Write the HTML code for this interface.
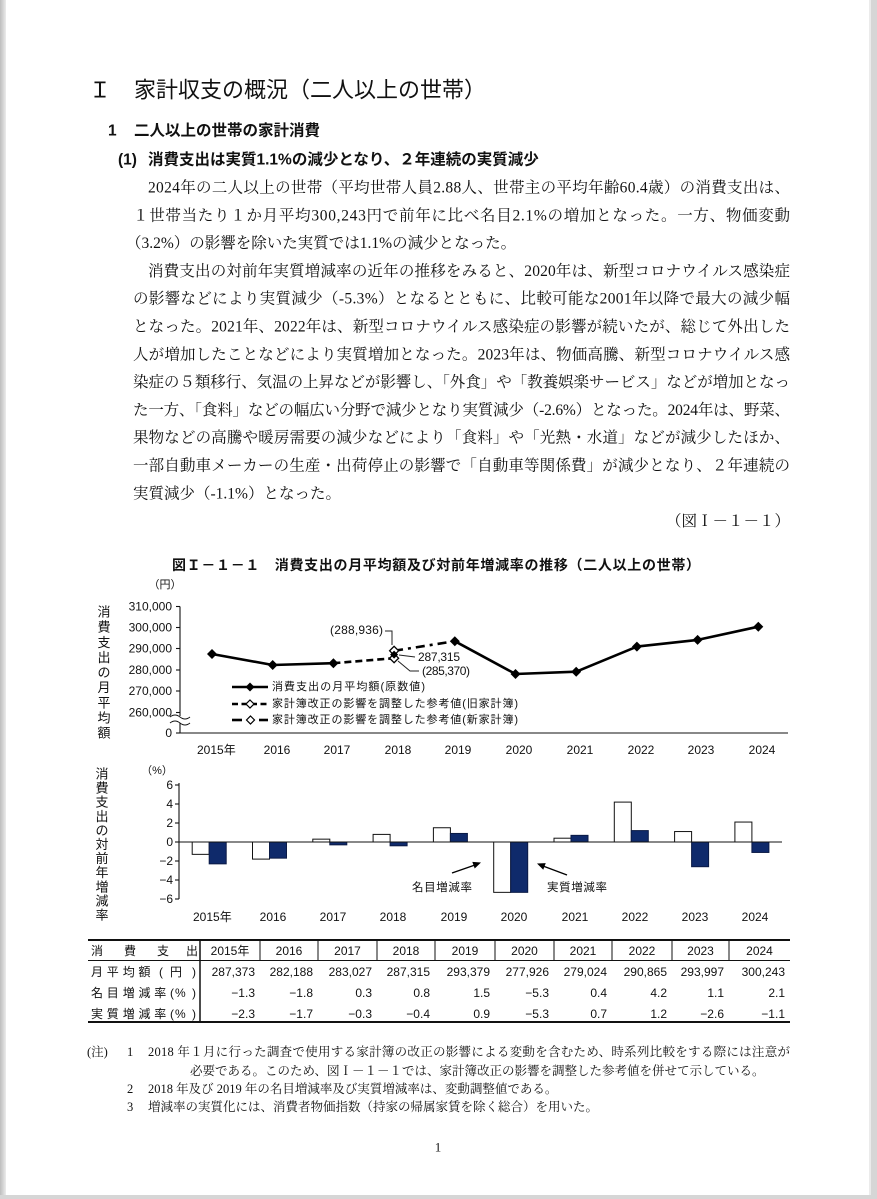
<!DOCTYPE html>
<html lang="ja">
<head>
<meta charset="utf-8">
<style>
  html,body{margin:0;padding:0;background:#fff;}
  body{width:877px;height:1199px;position:relative;overflow:hidden;}
  svg{position:absolute;left:0;top:0;}
  .g{font-family:"Liberation Sans","Noto Sans CJK JP",sans-serif;}
  .m{font-family:"Liberation Serif","Noto Serif CJK SC",serif;}
  text{dominant-baseline:central;fill:#111;}
</style>
</head>
<body>
<svg width="877" height="1199" viewBox="0 0 877 1199" xmlns="http://www.w3.org/2000/svg">
  <defs>
    <linearGradient id="lg" x1="0" x2="1" y1="0" y2="0">
      <stop offset="0" stop-color="#bdbdbd"/>
      <stop offset="1" stop-color="#ececec"/>
    </linearGradient>
  </defs>
  <!-- page edges -->
  <rect x="0" y="0" width="877" height="1199" fill="#fff"/>
  <rect x="0" y="0" width="6" height="1199" fill="url(#lg)"/>
  <rect x="869" y="0" width="8" height="1199" fill="#d6d6d6"/>
  <rect x="869" y="0" width="2" height="1199" fill="#ebebeb"/>
  <rect x="0" y="1195" width="877" height="4" fill="#d6d6d6"/>

  <!-- headings -->
  <text class="g" x="89" y="90" font-size="22">Ｉ</text>
  <text class="g" x="134" y="90" font-size="22">家計収支の概況（二人以上の世帯）</text>
  <text class="g" x="108" y="131" font-size="15.5" font-weight="bold">1</text>
  <text class="g" x="134" y="131" font-size="15.5" font-weight="bold">二人以上の世帯の家計消費</text>
  <text class="g" x="118" y="160" font-size="15.5" font-weight="bold">(1)</text>
  <text class="g" x="148" y="160" font-size="15.5" font-weight="bold">消費支出は実質1.1%の減少となり、２年連続の実質減少</text>

  <!-- body text -->
  <g class="m" font-size="15.5">
    <text x="148" y="188" textLength="642" lengthAdjust="spacing">2024年の二人以上の世帯（平均世帯人員2.88人、世帯主の平均年齢60.4歳）の消費支出は、</text>
    <text x="133" y="215.8" textLength="657" lengthAdjust="spacing">１世帯当たり１か月平均300,243円で前年に比べ名目2.1%の増加となった。一方、物価変動</text>
    <text x="126" y="243.6">（3.2%）の影響を除いた実質では1.1%の減少となった。</text>
    <text x="148" y="271.4" textLength="642" lengthAdjust="spacing">消費支出の対前年実質増減率の近年の推移をみると、2020年は、新型コロナウイルス感染症</text>
    <text x="133" y="299.2" textLength="657" lengthAdjust="spacing">の影響などにより実質減少（-5.3%）となるとともに、比較可能な2001年以降で最大の減少幅</text>
    <text x="133" y="327" textLength="657" lengthAdjust="spacing">となった。2021年、2022年は、新型コロナウイルス感染症の影響が続いたが、総じて外出した</text>
    <text x="133" y="354.8" textLength="657" lengthAdjust="spacing">人が増加したことなどにより実質増加となった。2023年は、物価高騰、新型コロナウイルス感</text>
    <text x="133" y="382.6" textLength="657" lengthAdjust="spacing">染症の５類移行、気温の上昇などが影響し、「外食」や「教養娯楽サービス」などが増加となっ</text>
    <text x="133" y="410.4" textLength="657" lengthAdjust="spacing">た一方、「食料」などの幅広い分野で減少となり実質減少（-2.6%）となった。2024年は、野菜、</text>
    <text x="133" y="438.2" textLength="657" lengthAdjust="spacing">果物などの高騰や暖房需要の減少などにより「食料」や「光熱・水道」などが減少したほか、</text>
    <text x="133" y="466" textLength="657" lengthAdjust="spacing">一部自動車メーカーの生産・出荷停止の影響で「自動車等関係費」が減少となり、２年連続の</text>
    <text x="133" y="493.8">実質減少（-1.1%）となった。</text>
    <text x="790" y="521.6" text-anchor="end">（図Ｉ－１－１）</text>
  </g>

  <!-- chart title -->
  <text class="g" x="172" y="565" font-size="14" font-weight="bold" textLength="528" lengthAdjust="spacing">図Ｉ－１－１　消費支出の月平均額及び対前年増減率の推移（二人以上の世帯）</text>

  <!-- ===== Line chart ===== -->
  <text class="g" x="165" y="585" font-size="11" text-anchor="middle">（円）</text>
  <text class="g" x="104 104 104 104 104 104 104 104 104" y="612 627.1 642.3 657.4 672.5 687.6 702.8 717.9 733" font-size="13" text-anchor="middle">消費支出の月平均額</text>
  <g class="g" font-size="12" text-anchor="end">
    <text x="172" y="606.5">310,000</text>
    <text x="172" y="627.5">300,000</text>
    <text x="172" y="648.5">290,000</text>
    <text x="172" y="670">280,000</text>
    <text x="172" y="691">270,000</text>
    <text x="172" y="712.5">260,000</text>
    <text x="172" y="733">0</text>
  </g>
  <g stroke="#111" stroke-width="1.1" fill="none">
    <line x1="180" y1="606.5" x2="180" y2="733"/>
    <line x1="180" y1="733" x2="788" y2="733"/>
    <line x1="176" y1="606.5" x2="180" y2="606.5"/>
    <line x1="176" y1="627.5" x2="180" y2="627.5"/>
    <line x1="176" y1="648.5" x2="180" y2="648.5"/>
    <line x1="176" y1="670" x2="180" y2="670"/>
    <line x1="176" y1="691" x2="180" y2="691"/>
    <line x1="176" y1="712.5" x2="180" y2="712.5"/>
    <line x1="176" y1="733" x2="180" y2="733"/>
  </g>
  <!-- axis break -->
  <rect x="171" y="716" width="19" height="7" fill="#fff"/>
  <g stroke="#111" stroke-width="1" fill="none">
    <path d="M170,717 q5,-4 10,0 t10,0"/>
    <path d="M170,723 q5,-4 10,0 t10,0"/>
  </g>
  <g class="g" font-size="12" text-anchor="middle">
    <text x="197" y="750" text-anchor="start">2015年</text>
    <text x="277" y="750">2016</text>
    <text x="337" y="750">2017</text>
    <text x="398" y="750">2018</text>
    <text x="458" y="750">2019</text>
    <text x="519" y="750">2020</text>
    <text x="580" y="750">2021</text>
    <text x="641" y="750">2022</text>
    <text x="701" y="750">2023</text>
    <text x="762" y="750">2024</text>
  </g>
  <!-- series -->
  <g stroke="#000" stroke-width="2.6" fill="none" stroke-linejoin="round">
    <polyline points="212,654 272.7,665 333.4,663.2"/>
    <polyline points="454.8,641.2 515.5,674 576.2,671.7 636.9,646.6 697.6,639.9 758.3,626.7"/>
    <line x1="333.4" y1="663.2" x2="394.1" y2="658.2" stroke-dasharray="7 4"/>
    <line x1="394.1" y1="650.8" x2="454.8" y2="641.2" stroke-dasharray="9 5 3 5"/>
  </g>
  <g fill="#000">
    <path d="M212,649 l5,5 l-5,5 l-5,-5z"/>
    <path d="M272.7,660 l5,5 l-5,5 l-5,-5z"/>
    <path d="M333.4,658.2 l5,5 l-5,5 l-5,-5z"/>
    <path d="M454.8,636.2 l5,5 l-5,5 l-5,-5z"/>
    <path d="M515.5,669 l5,5 l-5,5 l-5,-5z"/>
    <path d="M576.2,666.7 l5,5 l-5,5 l-5,-5z"/>
    <path d="M636.9,641.6 l5,5 l-5,5 l-5,-5z"/>
    <path d="M697.6,634.9 l5,5 l-5,5 l-5,-5z"/>
    <path d="M758.3,621.7 l5,5 l-5,5 l-5,-5z"/>
  </g>
  <g fill="#fff" stroke="#000" stroke-width="1.3">
    <path d="M394.1,646.3 l4.5,4.5 l-4.5,4.5 l-4.5,-4.5z"/>
    <path d="M394.1,653.7 l4.5,4.5 l-4.5,4.5 l-4.5,-4.5z"/>
  </g>
  <path d="M394.1,650.6 l4,4 l-4,4 l-4,-4z" fill="#000"/>
  <!-- annotations -->
  <g class="g" font-size="12">
    <text x="330" y="630" textLength="53" lengthAdjust="spacing">(288,936)</text>
    <text x="418" y="657" textLength="42" lengthAdjust="spacing">287,315</text>
    <text x="422" y="671" textLength="48" lengthAdjust="spacing">(285,370)</text>
  </g>
  <g stroke="#222" stroke-width="1" fill="none">
    <polyline points="385,631 392,631 392,645"/>
    <line x1="399" y1="655" x2="415" y2="657"/>
    <polyline points="398,661 410,671 419,671"/>
  </g>
  <!-- legend -->
  <g stroke="#000" stroke-width="2.6" fill="none">
    <line x1="232" y1="687" x2="268" y2="687"/>
    <line x1="232" y1="704" x2="268" y2="704" stroke-dasharray="6 3.5"/>
    <line x1="232" y1="720" x2="242" y2="720"/>
    <line x1="259" y1="720" x2="268" y2="720"/>
  </g>
  <path d="M250,682.5 l4.5,4.5 l-4.5,4.5 l-4.5,-4.5z" fill="#000"/>
  <path d="M250,700 l4,4 l-4,4 l-4,-4z" fill="#fff" stroke="#000" stroke-width="1.2"/>
  <path d="M250.5,716 l4,4 l-4,4 l-4,-4z" fill="#fff" stroke="#000" stroke-width="1.2"/>
  <g class="g" font-size="11">
    <text x="272" y="687" textLength="153" lengthAdjust="spacing">消費支出の月平均額(原数値)</text>
    <text x="272" y="704" textLength="246" lengthAdjust="spacing">家計簿改正の影響を調整した参考値(旧家計簿)</text>
    <text x="272" y="720" textLength="246" lengthAdjust="spacing">家計簿改正の影響を調整した参考値(新家計簿)</text>
  </g>

  <!-- ===== Bar chart ===== -->
  <text class="g" x="157" y="771" font-size="11" text-anchor="middle">（%）</text>
  <text class="g" x="102 102 102 102 102 102 102 102 102 102 102" y="774 788.1 802.2 816.3 830.4 844.5 858.6 872.7 886.8 900.9 915" font-size="13" text-anchor="middle">消費支出の対前年増減率</text>
  <g class="g" font-size="12" text-anchor="end">
    <text x="173" y="785">6</text>
    <text x="173" y="804">4</text>
    <text x="173" y="823">2</text>
    <text x="173" y="842">0</text>
    <text x="173" y="861">−2</text>
    <text x="173" y="880">−4</text>
    <text x="173" y="899">−6</text>
  </g>
  <g fill="#fff" stroke="#111" stroke-width="1">
    <rect x="192.2" y="842" width="17" height="12.35"/>
    <rect x="252.5" y="842" width="17" height="17.1"/>
    <rect x="312.8" y="839.15" width="17" height="2.85"/>
    <rect x="373.1" y="834.4" width="17" height="7.6"/>
    <rect x="433.4" y="827.75" width="17" height="14.25"/>
    <rect x="493.7" y="842" width="17" height="50.35"/>
    <rect x="554" y="838.2" width="17" height="3.8"/>
    <rect x="614.3" y="802.1" width="17" height="39.9"/>
    <rect x="674.6" y="831.55" width="17" height="10.45"/>
    <rect x="734.9" y="822.05" width="17" height="19.95"/>
  </g>
  <g fill="#0f2a6b" stroke="#0a1a45" stroke-width="1">
    <rect x="209.2" y="842" width="17" height="21.85"/>
    <rect x="269.5" y="842" width="17" height="16.15"/>
    <rect x="329.8" y="842" width="17" height="2.85"/>
    <rect x="390.1" y="842" width="17" height="3.8"/>
    <rect x="450.4" y="833.45" width="17" height="8.55"/>
    <rect x="510.7" y="842" width="17" height="50.35"/>
    <rect x="571" y="835.35" width="17" height="6.65"/>
    <rect x="631.3" y="830.6" width="17" height="11.4"/>
    <rect x="691.6" y="842" width="17" height="24.7"/>
    <rect x="751.9" y="842" width="17" height="10.45"/>
  </g>
  <g stroke="#111" stroke-width="1.1" fill="none">
    <line x1="179" y1="783" x2="179" y2="899"/>
    <line x1="179" y1="842" x2="782" y2="842"/>
    <line x1="175" y1="785" x2="179" y2="785"/>
    <line x1="175" y1="804" x2="179" y2="804"/>
    <line x1="175" y1="823" x2="179" y2="823"/>
    <line x1="175" y1="842" x2="179" y2="842"/>
    <line x1="175" y1="861" x2="179" y2="861"/>
    <line x1="175" y1="880" x2="179" y2="880"/>
    <line x1="175" y1="899" x2="179" y2="899"/>
  </g>
  <g class="g" font-size="12" text-anchor="middle">
    <text x="193" y="917" text-anchor="start">2015年</text>
    <text x="273" y="917">2016</text>
    <text x="333" y="917">2017</text>
    <text x="393" y="917">2018</text>
    <text x="454" y="917">2019</text>
    <text x="514" y="917">2020</text>
    <text x="575" y="917">2021</text>
    <text x="635" y="917">2022</text>
    <text x="695" y="917">2023</text>
    <text x="755" y="917">2024</text>
  </g>
  <!-- arrows -->
  <g stroke="#000" stroke-width="1.4">
    <line x1="452" y1="873" x2="475" y2="865"/>
    <line x1="567" y1="875" x2="543" y2="866"/>
  </g>
  <polygon points="481,862.5 474.7,868.5 472.3,861.9" fill="#000"/>
  <polygon points="537,863.5 545.75,863.1 543.25,869.7" fill="#000"/>
  <g class="g" font-size="11.5">
    <text x="412" y="888" textLength="60" lengthAdjust="spacing">名目増減率</text>
    <text x="547" y="888" textLength="60" lengthAdjust="spacing">実質増減率</text>
  </g>

  <!-- ===== Table ===== -->
  <g stroke="#111" fill="none">
    <line x1="88" y1="940" x2="790" y2="940" stroke-width="2"/>
    <line x1="88" y1="960.5" x2="790" y2="960.5" stroke-width="1"/>
    <line x1="88" y1="1022" x2="790" y2="1022" stroke-width="2"/>
    <line x1="200" y1="940" x2="200" y2="1022" stroke-width="1.5"/>
    <line x1="260" y1="940" x2="260" y2="960.5" stroke-width="1"/>
    <line x1="318" y1="940" x2="318" y2="960.5" stroke-width="1"/>
    <line x1="377" y1="940" x2="377" y2="960.5" stroke-width="1"/>
    <line x1="435" y1="940" x2="435" y2="960.5" stroke-width="1"/>
    <line x1="495" y1="940" x2="495" y2="960.5" stroke-width="1"/>
    <line x1="554" y1="940" x2="554" y2="960.5" stroke-width="1"/>
    <line x1="612" y1="940" x2="612" y2="960.5" stroke-width="1"/>
    <line x1="672" y1="940" x2="672" y2="960.5" stroke-width="1"/>
    <line x1="729" y1="940" x2="729" y2="960.5" stroke-width="1"/>
  </g>
  <g class="g" font-size="12">
    <text x="91 124 157 186" y="951">消費支出</text>
    <text x="91 106.8 122.7 138.5 159 170 192" y="972">月平均額(円)</text>
    <text x="91 106.8 122.7 138.5 154.3 170 175 192" y="993">名目増減率(%)</text>
    <text x="91 106.8 122.7 138.5 154.3 170 175 192" y="1014">実質増減率(%)</text>
  </g>
  <g class="g" font-size="12" text-anchor="middle">
    <text x="230" y="951">2015年</text>
    <text x="289" y="951">2016</text>
    <text x="347.5" y="951">2017</text>
    <text x="406" y="951">2018</text>
    <text x="465" y="951">2019</text>
    <text x="524.5" y="951">2020</text>
    <text x="583" y="951">2021</text>
    <text x="642" y="951">2022</text>
    <text x="700.5" y="951">2023</text>
    <text x="759.5" y="951">2024</text>
  </g>
  <g class="g" font-size="12" text-anchor="end">
    <text x="255" y="972">287,373</text>
    <text x="313" y="972">282,188</text>
    <text x="372" y="972">283,027</text>
    <text x="430" y="972">287,315</text>
    <text x="490" y="972">293,379</text>
    <text x="549" y="972">277,926</text>
    <text x="607" y="972">279,024</text>
    <text x="667" y="972">290,865</text>
    <text x="724" y="972">293,997</text>
    <text x="785" y="972">300,243</text>

    <text x="255" y="993">−1.3</text>
    <text x="313" y="993">−1.8</text>
    <text x="372" y="993">0.3</text>
    <text x="430" y="993">0.8</text>
    <text x="490" y="993">1.5</text>
    <text x="549" y="993">−5.3</text>
    <text x="607" y="993">0.4</text>
    <text x="667" y="993">4.2</text>
    <text x="724" y="993">1.1</text>
    <text x="785" y="993">2.1</text>

    <text x="255" y="1014">−2.3</text>
    <text x="313" y="1014">−1.7</text>
    <text x="372" y="1014">−0.3</text>
    <text x="430" y="1014">−0.4</text>
    <text x="490" y="1014">0.9</text>
    <text x="549" y="1014">−5.3</text>
    <text x="607" y="1014">0.7</text>
    <text x="667" y="1014">1.2</text>
    <text x="724" y="1014">−2.6</text>
    <text x="785" y="1014">−1.1</text>
  </g>

  <!-- ===== Notes ===== -->
  <g class="m" font-size="12.5">
    <text x="87" y="1052">(注)</text>
    <text x="127" y="1052">1</text>
    <text x="148" y="1052" textLength="642" lengthAdjust="spacing">2018 年１月に行った調査で使用する家計簿の改正の影響による変動を含むため、時系列比較をする際には注意が</text>
    <text x="190" y="1071">必要である。このため、図Ｉ－１－１では、家計簿改正の影響を調整した参考値を併せて示している。</text>
    <text x="127" y="1089">2</text>
    <text x="148" y="1089">2018 年及び 2019 年の名目増減率及び実質増減率は、変動調整値である。</text>
    <text x="127" y="1107">3</text>
    <text x="148" y="1107">増減率の実質化には、消費者物価指数（持家の帰属家賃を除く総合）を用いた。</text>
  </g>
  <text class="m" x="438" y="1147" font-size="13" text-anchor="middle">1</text>
</svg>
</body>
</html>
